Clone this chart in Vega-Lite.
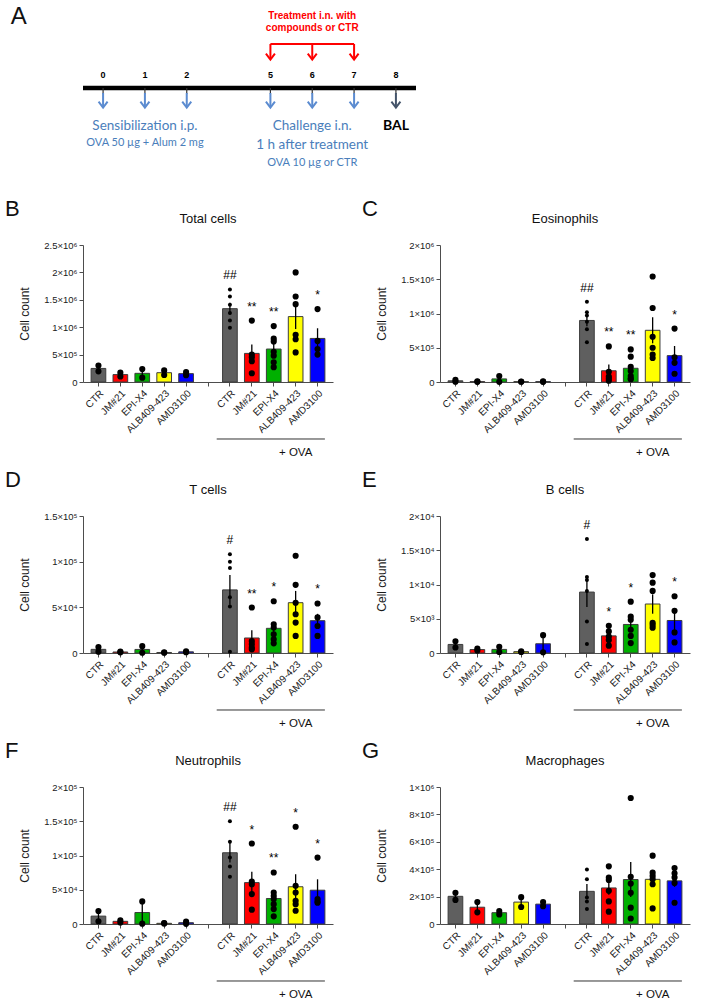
{
  "$schema": "https://vega.github.io/schema/vega-lite/v6.json",
  "padding": 5,
  "background": "white",
  "spacing": 10,
  "config": {
    "view": {"stroke": null},
    "font": "Liberation Sans",
    "title": {"font": "Liberation Sans", "fontWeight": "normal", "color": "#111111"},
    "axis": {"domainColor": "#4d4d4d", "tickColor": "#4d4d4d", "labelColor": "#1a1a1a", "titleColor": "#1a1a1a", "grid": false, "labelFont": "Liberation Sans", "titleFont": "Liberation Sans", "titleFontWeight": "normal", "domainWidth": 1, "tickWidth": 1},
    "axisY": {"labelFontSize": 9.5, "titleFontSize": 12, "tickSize": 4, "labelPadding": 2, "titlePadding": 10, "minExtent": 42, "labelOverlap": false},
    "axisX": {"labelFontSize": 10, "labelAngle": -45, "tickSize": 4, "labelPadding": 2}
  },
  "datasets": {
    "days": [
      {"day": "0", "kind": "sens"}, {"day": "1", "kind": "sens"}, {"day": "2", "kind": "sens"},
      {"day": "5", "kind": "chal"}, {"day": "6", "kind": "chal"}, {"day": "7", "kind": "chal"},
      {"day": "8", "kind": "bal"}
    ],
    "ova": [{"lo": "CTR|O", "hi": "AMD3100|O", "mid": "ALB409-423|O", "label": "+ OVA"}],
    "sigB": [{"g": "CTR|O", "s": "##"}, {"g": "JM#21|O", "s": "**"}, {"g": "EPI-X4|O", "s": "**"}, {"g": "AMD3100|O", "s": "*"}],
    "sigC": [{"g": "CTR|O", "s": "##"}, {"g": "JM#21|O", "s": "**"}, {"g": "EPI-X4|O", "s": "**"}, {"g": "AMD3100|O", "s": "*"}],
    "sigD": [{"g": "CTR|O", "s": "#"}, {"g": "JM#21|O", "s": "**"}, {"g": "EPI-X4|O", "s": "*"}, {"g": "AMD3100|O", "s": "*"}],
    "sigE": [{"g": "CTR|O", "s": "#"}, {"g": "JM#21|O", "s": "*"}, {"g": "EPI-X4|O", "s": "*"}, {"g": "AMD3100|O", "s": "*"}],
    "sigF": [{"g": "CTR|O", "s": "##"}, {"g": "JM#21|O", "s": "*"}, {"g": "EPI-X4|O", "s": "**"}, {"g": "ALB409-423|O", "s": "*"}, {"g": "AMD3100|O", "s": "*"}],
    "cells": [
      {"p": "B", "g": "CTR|S", "v": 300000}, {"p": "B", "g": "CTR|S", "v": 195000},
      {"p": "B", "g": "JM#21|S", "v": 170000}, {"p": "B", "g": "JM#21|S", "v": 100000},
      {"p": "B", "g": "EPI-X4|S", "v": 237000}, {"p": "B", "g": "EPI-X4|S", "v": 79000},
      {"p": "B", "g": "ALB409-423|S", "v": 212000}, {"p": "B", "g": "ALB409-423|S", "v": 127000},
      {"p": "B", "g": "AMD3100|S", "v": 180000}, {"p": "B", "g": "AMD3100|S", "v": 125000},
      {"p": "B", "g": "CTR|O", "v": 1690000}, {"p": "B", "g": "CTR|O", "v": 1560000}, {"p": "B", "g": "CTR|O", "v": 1410000}, {"p": "B", "g": "CTR|O", "v": 1260000}, {"p": "B", "g": "CTR|O", "v": 1120000}, {"p": "B", "g": "CTR|O", "v": 990000},
      {"p": "B", "g": "JM#21|O", "v": 1120000}, {"p": "B", "g": "JM#21|O", "v": 500000}, {"p": "B", "g": "JM#21|O", "v": 450000}, {"p": "B", "g": "JM#21|O", "v": 380000}, {"p": "B", "g": "JM#21|O", "v": 160000},
      {"p": "B", "g": "EPI-X4|O", "v": 1020000}, {"p": "B", "g": "EPI-X4|O", "v": 790000}, {"p": "B", "g": "EPI-X4|O", "v": 740000}, {"p": "B", "g": "EPI-X4|O", "v": 550000}, {"p": "B", "g": "EPI-X4|O", "v": 480000}, {"p": "B", "g": "EPI-X4|O", "v": 360000}, {"p": "B", "g": "EPI-X4|O", "v": 270000},
      {"p": "B", "g": "ALB409-423|O", "v": 2000000}, {"p": "B", "g": "ALB409-423|O", "v": 1560000}, {"p": "B", "g": "ALB409-423|O", "v": 1420000}, {"p": "B", "g": "ALB409-423|O", "v": 860000}, {"p": "B", "g": "ALB409-423|O", "v": 780000}, {"p": "B", "g": "ALB409-423|O", "v": 540000},
      {"p": "B", "g": "AMD3100|O", "v": 1330000}, {"p": "B", "g": "AMD3100|O", "v": 750000}, {"p": "B", "g": "AMD3100|O", "v": 600000}, {"p": "B", "g": "AMD3100|O", "v": 500000},

      {"p": "C", "g": "CTR|S", "v": 30000}, {"p": "C", "g": "CTR|S", "v": 5000},
      {"p": "C", "g": "JM#21|S", "v": 8000}, {"p": "C", "g": "JM#21|S", "v": 3000},
      {"p": "C", "g": "EPI-X4|S", "v": 88000}, {"p": "C", "g": "EPI-X4|S", "v": 2000},
      {"p": "C", "g": "ALB409-423|S", "v": 7000}, {"p": "C", "g": "ALB409-423|S", "v": 4000},
      {"p": "C", "g": "AMD3100|S", "v": 8000}, {"p": "C", "g": "AMD3100|S", "v": 3000},
      {"p": "C", "g": "CTR|O", "v": 1170000}, {"p": "C", "g": "CTR|O", "v": 1020000}, {"p": "C", "g": "CTR|O", "v": 970000}, {"p": "C", "g": "CTR|O", "v": 880000}, {"p": "C", "g": "CTR|O", "v": 770000}, {"p": "C", "g": "CTR|O", "v": 580000},
      {"p": "C", "g": "JM#21|O", "v": 520000}, {"p": "C", "g": "JM#21|O", "v": 150000}, {"p": "C", "g": "JM#21|O", "v": 80000}, {"p": "C", "g": "JM#21|O", "v": 50000}, {"p": "C", "g": "JM#21|O", "v": 20000},
      {"p": "C", "g": "EPI-X4|O", "v": 476000}, {"p": "C", "g": "EPI-X4|O", "v": 370000}, {"p": "C", "g": "EPI-X4|O", "v": 220000}, {"p": "C", "g": "EPI-X4|O", "v": 160000}, {"p": "C", "g": "EPI-X4|O", "v": 87000}, {"p": "C", "g": "EPI-X4|O", "v": 50000}, {"p": "C", "g": "EPI-X4|O", "v": 40000},
      {"p": "C", "g": "ALB409-423|O", "v": 1540000}, {"p": "C", "g": "ALB409-423|O", "v": 1080000}, {"p": "C", "g": "ALB409-423|O", "v": 660000}, {"p": "C", "g": "ALB409-423|O", "v": 500000}, {"p": "C", "g": "ALB409-423|O", "v": 400000}, {"p": "C", "g": "ALB409-423|O", "v": 350000},
      {"p": "C", "g": "AMD3100|O", "v": 780000}, {"p": "C", "g": "AMD3100|O", "v": 360000}, {"p": "C", "g": "AMD3100|O", "v": 280000}, {"p": "C", "g": "AMD3100|O", "v": 120000},

      {"p": "D", "g": "CTR|S", "v": 6500}, {"p": "D", "g": "CTR|S", "v": 1500},
      {"p": "D", "g": "JM#21|S", "v": 1500}, {"p": "D", "g": "JM#21|S", "v": 700},
      {"p": "D", "g": "EPI-X4|S", "v": 7500}, {"p": "D", "g": "EPI-X4|S", "v": 300},
      {"p": "D", "g": "ALB409-423|S", "v": 800}, {"p": "D", "g": "ALB409-423|S", "v": 300},
      {"p": "D", "g": "AMD3100|S", "v": 1800}, {"p": "D", "g": "AMD3100|S", "v": 800},
      {"p": "D", "g": "CTR|O", "v": 108000}, {"p": "D", "g": "CTR|O", "v": 100000}, {"p": "D", "g": "CTR|O", "v": 93000}, {"p": "D", "g": "CTR|O", "v": 61000}, {"p": "D", "g": "CTR|O", "v": 51000}, {"p": "D", "g": "CTR|O", "v": 1500},
      {"p": "D", "g": "JM#21|O", "v": 49800}, {"p": "D", "g": "JM#21|O", "v": 13000}, {"p": "D", "g": "JM#21|O", "v": 9500}, {"p": "D", "g": "JM#21|O", "v": 5900}, {"p": "D", "g": "JM#21|O", "v": 4000},
      {"p": "D", "g": "EPI-X4|O", "v": 56700}, {"p": "D", "g": "EPI-X4|O", "v": 31500}, {"p": "D", "g": "EPI-X4|O", "v": 27800}, {"p": "D", "g": "EPI-X4|O", "v": 20500}, {"p": "D", "g": "EPI-X4|O", "v": 15000}, {"p": "D", "g": "EPI-X4|O", "v": 10600},
      {"p": "D", "g": "ALB409-423|O", "v": 106500}, {"p": "D", "g": "ALB409-423|O", "v": 74600}, {"p": "D", "g": "ALB409-423|O", "v": 55000}, {"p": "D", "g": "ALB409-423|O", "v": 42400}, {"p": "D", "g": "ALB409-423|O", "v": 33300}, {"p": "D", "g": "ALB409-423|O", "v": 18700},
      {"p": "D", "g": "AMD3100|O", "v": 54200}, {"p": "D", "g": "AMD3100|O", "v": 39000}, {"p": "D", "g": "AMD3100|O", "v": 29600}, {"p": "D", "g": "AMD3100|O", "v": 18700},

      {"p": "E", "g": "CTR|S", "v": 1700}, {"p": "E", "g": "CTR|S", "v": 800},
      {"p": "E", "g": "JM#21|S", "v": 650}, {"p": "E", "g": "JM#21|S", "v": 350},
      {"p": "E", "g": "EPI-X4|S", "v": 900}, {"p": "E", "g": "EPI-X4|S", "v": 150},
      {"p": "E", "g": "ALB409-423|S", "v": 250}, {"p": "E", "g": "ALB409-423|S", "v": 150},
      {"p": "E", "g": "AMD3100|S", "v": 2600}, {"p": "E", "g": "AMD3100|S", "v": 100},
      {"p": "E", "g": "CTR|O", "v": 16660}, {"p": "E", "g": "CTR|O", "v": 11100}, {"p": "E", "g": "CTR|O", "v": 10650}, {"p": "E", "g": "CTR|O", "v": 9060}, {"p": "E", "g": "CTR|O", "v": 4600}, {"p": "E", "g": "CTR|O", "v": 1300},
      {"p": "E", "g": "JM#21|O", "v": 3970}, {"p": "E", "g": "JM#21|O", "v": 3150}, {"p": "E", "g": "JM#21|O", "v": 2400}, {"p": "E", "g": "JM#21|O", "v": 1900}, {"p": "E", "g": "JM#21|O", "v": 1070},
      {"p": "E", "g": "EPI-X4|O", "v": 7500}, {"p": "E", "g": "EPI-X4|O", "v": 5300}, {"p": "E", "g": "EPI-X4|O", "v": 4850}, {"p": "E", "g": "EPI-X4|O", "v": 3400}, {"p": "E", "g": "EPI-X4|O", "v": 2500}, {"p": "E", "g": "EPI-X4|O", "v": 1450},
      {"p": "E", "g": "ALB409-423|O", "v": 11380}, {"p": "E", "g": "ALB409-423|O", "v": 10270}, {"p": "E", "g": "ALB409-423|O", "v": 9060}, {"p": "E", "g": "ALB409-423|O", "v": 4400}, {"p": "E", "g": "ALB409-423|O", "v": 4100}, {"p": "E", "g": "ALB409-423|O", "v": 3700},
      {"p": "E", "g": "AMD3100|O", "v": 8280}, {"p": "E", "g": "AMD3100|O", "v": 6150}, {"p": "E", "g": "AMD3100|O", "v": 3000}, {"p": "E", "g": "AMD3100|O", "v": 1550},

      {"p": "F", "g": "CTR|S", "v": 19000}, {"p": "F", "g": "CTR|S", "v": 4000},
      {"p": "F", "g": "JM#21|S", "v": 5500}, {"p": "F", "g": "JM#21|S", "v": 2300},
      {"p": "F", "g": "EPI-X4|S", "v": 33000}, {"p": "F", "g": "EPI-X4|S", "v": 500},
      {"p": "F", "g": "ALB409-423|S", "v": 1200}, {"p": "F", "g": "ALB409-423|S", "v": 800},
      {"p": "F", "g": "AMD3100|S", "v": 3500}, {"p": "F", "g": "AMD3100|S", "v": 300},
      {"p": "F", "g": "CTR|O", "v": 150000}, {"p": "F", "g": "CTR|O", "v": 120000}, {"p": "F", "g": "CTR|O", "v": 97000}, {"p": "F", "g": "CTR|O", "v": 84000}, {"p": "F", "g": "CTR|O", "v": 69000},
      {"p": "F", "g": "JM#21|O", "v": 117500}, {"p": "F", "g": "JM#21|O", "v": 62000}, {"p": "F", "g": "JM#21|O", "v": 58000}, {"p": "F", "g": "JM#21|O", "v": 43700}, {"p": "F", "g": "JM#21|O", "v": 20900},
      {"p": "F", "g": "EPI-X4|O", "v": 75200}, {"p": "F", "g": "EPI-X4|O", "v": 46000}, {"p": "F", "g": "EPI-X4|O", "v": 41000}, {"p": "F", "g": "EPI-X4|O", "v": 36400}, {"p": "F", "g": "EPI-X4|O", "v": 29000}, {"p": "F", "g": "EPI-X4|O", "v": 21800}, {"p": "F", "g": "EPI-X4|O", "v": 11200},
      {"p": "F", "g": "ALB409-423|O", "v": 142000}, {"p": "F", "g": "ALB409-423|O", "v": 55800}, {"p": "F", "g": "ALB409-423|O", "v": 46000}, {"p": "F", "g": "ALB409-423|O", "v": 34000}, {"p": "F", "g": "ALB409-423|O", "v": 29000}, {"p": "F", "g": "ALB409-423|O", "v": 19400},
      {"p": "F", "g": "AMD3100|O", "v": 97000}, {"p": "F", "g": "AMD3100|O", "v": 36400}, {"p": "F", "g": "AMD3100|O", "v": 33000}, {"p": "F", "g": "AMD3100|O", "v": 31000},

      {"p": "G", "g": "CTR|S", "v": 228000}, {"p": "G", "g": "CTR|S", "v": 176000},
      {"p": "G", "g": "JM#21|S", "v": 160000}, {"p": "G", "g": "JM#21|S", "v": 85000},
      {"p": "G", "g": "EPI-X4|S", "v": 95000}, {"p": "G", "g": "EPI-X4|S", "v": 70000},
      {"p": "G", "g": "ALB409-423|S", "v": 196000}, {"p": "G", "g": "ALB409-423|S", "v": 124000},
      {"p": "G", "g": "AMD3100|S", "v": 160000}, {"p": "G", "g": "AMD3100|S", "v": 130000},
      {"p": "G", "g": "CTR|O", "v": 397000}, {"p": "G", "g": "CTR|O", "v": 327000}, {"p": "G", "g": "CTR|O", "v": 194000}, {"p": "G", "g": "CTR|O", "v": 165000}, {"p": "G", "g": "CTR|O", "v": 109000},
      {"p": "G", "g": "JM#21|O", "v": 421000}, {"p": "G", "g": "JM#21|O", "v": 339000}, {"p": "G", "g": "JM#21|O", "v": 322000}, {"p": "G", "g": "JM#21|O", "v": 242000}, {"p": "G", "g": "JM#21|O", "v": 165000}, {"p": "G", "g": "JM#21|O", "v": 90000},
      {"p": "G", "g": "EPI-X4|O", "v": 920000}, {"p": "G", "g": "EPI-X4|O", "v": 345000}, {"p": "G", "g": "EPI-X4|O", "v": 295000}, {"p": "G", "g": "EPI-X4|O", "v": 228000}, {"p": "G", "g": "EPI-X4|O", "v": 119000}, {"p": "G", "g": "EPI-X4|O", "v": 40000},
      {"p": "G", "g": "ALB409-423|O", "v": 499000}, {"p": "G", "g": "ALB409-423|O", "v": 375000}, {"p": "G", "g": "ALB409-423|O", "v": 351000}, {"p": "G", "g": "ALB409-423|O", "v": 327000}, {"p": "G", "g": "ALB409-423|O", "v": 290000}, {"p": "G", "g": "ALB409-423|O", "v": 114000},
      {"p": "G", "g": "AMD3100|O", "v": 409000}, {"p": "G", "g": "AMD3100|O", "v": 370000}, {"p": "G", "g": "AMD3100|O", "v": 340000}, {"p": "G", "g": "AMD3100|O", "v": 300000}, {"p": "G", "g": "AMD3100|O", "v": 155000}
    ]
  },
  "vconcat": [
    {
      "width": 333,
      "height": 183,
      "title": {"text": "A", "orient": "left", "anchor": "end", "angle": 0, "align": "right", "baseline": "top", "offset": 38, "fontSize": 24},
      "layer": [
        {
          "data": {"values": [{"line": "timeline"}]},
          "mark": {"type": "rule", "color": "black", "strokeWidth": 4.5},
          "encoding": {"y": {"datum": 0, "type": "quantitative", "scale": {"domain": [-10.0, 8.3], "nice": false, "zero": false}, "axis": null}}
        },
        {
          "data": {"name": "days"},
          "mark": {"type": "rule", "color": "#333333", "strokeWidth": 1.2},
          "encoding": {
            "x": {"field": "day", "type": "ordinal", "scale": {"type": "point", "domain": ["0", "1", "2", "gap", "5", "6", "7", "8"], "padding": 0.48}, "axis": null},
            "y": {"datum": 0, "type": "quantitative"},
            "y2": {"datum": -0.6}
          }
        },
        {
          "data": {"name": "days"},
          "mark": {"type": "text", "fontSize": 9, "fontWeight": "bold", "color": "black"},
          "encoding": {"x": {"field": "day", "type": "ordinal"}, "y": {"datum": 1.3, "type": "quantitative"}, "text": {"field": "day"}}
        },
        {
          "data": {"name": "days"},
          "mark": {"type": "rule", "strokeWidth": 2},
          "encoding": {
            "x": {"field": "day", "type": "ordinal"},
            "y": {"datum": -0.5, "type": "quantitative"},
            "y2": {"datum": -1.85},
            "color": {"condition": {"test": "datum.kind == 'bal'", "value": "#44546a"}, "value": "#5b8bd0"}
          }
        },
        {
          "data": {"name": "days"},
          "mark": {"type": "point", "shape": "M-1,-1.3L0,0L1,-1.3", "filled": false, "strokeWidth": 2, "size": 81, "opacity": 1},
          "encoding": {
            "x": {"field": "day", "type": "ordinal"},
            "y": {"datum": -1.95, "type": "quantitative"},
            "color": {"condition": {"test": "datum.kind == 'bal'", "value": "#44546a"}, "value": "#5b8bd0"}
          }
        },
        {
          "data": {"name": "days"},
          "transform": [{"filter": "datum.kind == 'chal'"}],
          "mark": {"type": "rule", "strokeWidth": 2, "color": "#ff0000"},
          "encoding": {"x": {"field": "day", "type": "ordinal"}, "y": {"datum": 4.4, "type": "quantitative"}, "y2": {"datum": 2.95}}
        },
        {
          "data": {"name": "days"},
          "transform": [{"filter": "datum.kind == 'chal'"}],
          "mark": {"type": "point", "shape": "M-1,-1.3L0,0L1,-1.3", "filled": false, "strokeWidth": 2, "size": 81, "opacity": 1, "color": "#ff0000"},
          "encoding": {"x": {"field": "day", "type": "ordinal"}, "y": {"datum": 2.85, "type": "quantitative"}}
        },
        {
          "data": {"values": [{"first": "5", "last": "7"}]},
          "mark": {"type": "rule", "strokeWidth": 2, "color": "#ff0000"},
          "encoding": {"x": {"field": "first", "type": "ordinal"}, "x2": {"field": "last"}, "y": {"datum": 4.4, "type": "quantitative"}}
        },
        {
          "data": {"values": [{"day": "6", "t": ["Treatment i.n. with", "compounds or CTR"]}]},
          "mark": {"type": "text", "fontSize": 10, "fontWeight": "bold", "color": "#ff0000", "lineHeight": 12, "baseline": "top"},
          "encoding": {"x": {"field": "day", "type": "ordinal"}, "y": {"datum": 7.7, "type": "quantitative"}, "text": {"field": "t"}}
        },
        {
          "data": {"values": [{"day": "1", "t": ["Sensibilization i.p."]}, {"day": "6", "t": ["Challenge i.n.", "1 h after treatment"]}]},
          "mark": {"type": "text", "font": "Lato", "fontSize": 13.5, "color": "#4a7ebb", "lineHeight": 19, "baseline": "top"},
          "encoding": {"x": {"field": "day", "type": "ordinal"}, "y": {"datum": -3.1, "type": "quantitative"}, "text": {"field": "t"}}
        },
        {
          "data": {"values": [{"day": "1", "t": "OVA 50 µg + Alum 2 mg"}]},
          "mark": {"type": "text", "font": "Lato", "fontSize": 11, "color": "#4a7ebb"},
          "encoding": {"x": {"field": "day", "type": "ordinal"}, "y": {"datum": -5.5, "type": "quantitative"}, "text": {"field": "t"}}
        },
        {
          "data": {"values": [{"day": "6", "t": "OVA 10 µg or CTR"}]},
          "mark": {"type": "text", "font": "Lato", "fontSize": 11, "color": "#4a7ebb"},
          "encoding": {"x": {"field": "day", "type": "ordinal"}, "y": {"datum": -7.5, "type": "quantitative"}, "text": {"field": "t"}}
        },
        {
          "data": {"values": [{"day": "8", "t": "BAL"}]},
          "mark": {"type": "text", "font": "Lato", "fontSize": 14, "fontWeight": "bold", "color": "black", "baseline": "top"},
          "encoding": {"x": {"field": "day", "type": "ordinal"}, "y": {"datum": -3.1, "type": "quantitative"}, "text": {"field": "t"}}
        }
      ]
    },
    {
      "hconcat": [
        {
          "title": {"text": "B", "anchor": "start", "dx": -13, "fontSize": 22, "offset": -8},
          "vconcat": [{
            "width": 250, "height": 137,
            "title": {"text": "Total cells", "fontSize": 13, "offset": 14},
            "data": {"name": "cells"},
            "layer": [
              {"transform": [{"filter": "datum.p == 'B'"}],
               "mark": {"type": "bar", "stroke": "#3c3c3c", "strokeWidth": 1},
               "encoding": {
                 "x": {"field": "g", "type": "nominal", "title": null, "scale": {"domain": ["CTR|S", "JM#21|S", "EPI-X4|S", "ALB409-423|S", "AMD3100|S", "gap", "CTR|O", "JM#21|O", "EPI-X4|O", "ALB409-423|O", "AMD3100|O"], "paddingInner": 0.33, "paddingOuter": 0.37}, "axis": {"labelExpr": "datum.value == 'gap' ? '' : replace(datum.value, /\\|.*$/, '')"}},
                 "y": {"aggregate": "mean", "field": "v", "type": "quantitative", "title": "Cell count", "scale": {"domain": [0, 2500000], "nice": false}, "axis": {"tickCount": 5, "labelExpr": "datum.value == 0 ? '0' : format(datum.value / pow(10, floor(log(datum.value) / LN10 + 1e-9)), '~g') + '×10' + ['⁰','¹','²','³','⁴','⁵','⁶','⁷','⁸','⁹'][floor(log(datum.value) / LN10 + 1e-9)]"}},
                 "color": {"field": "g", "type": "nominal", "legend": null, "scale": {"domain": ["CTR|S", "JM#21|S", "EPI-X4|S", "ALB409-423|S", "AMD3100|S", "CTR|O", "JM#21|O", "EPI-X4|O", "ALB409-423|O", "AMD3100|O"], "range": ["#5f5f5f", "#ff0000", "#00b000", "#ffff00", "#0000ff", "#5f5f5f", "#ff0000", "#00b000", "#ffff00", "#0000ff"]}}
               }},
              {"transform": [{"filter": "datum.p == 'B'"}],
               "mark": {"type": "errorbar", "extent": "stderr", "color": "black", "thickness": 1.3, "size": 8},
               "encoding": {"x": {"field": "g", "type": "nominal", "title": null}, "y": {"field": "v", "type": "quantitative", "title": "Cell count"}}},
              {"transform": [{"filter": "datum.p == 'B'"}],
               "mark": {"type": "point", "filled": true, "color": "black", "opacity": 1},
               "encoding": {"x": {"field": "g", "type": "nominal", "title": null}, "y": {"field": "v", "type": "quantitative", "title": "Cell count"}, "size": {"condition": {"test": "datum.g == 'CTR|O'", "value": 16}, "value": 38}}},
              {"transform": [{"filter": "datum.p == 'B'"}, {"aggregate": [{"op": "max", "field": "v", "as": "vmax"}], "groupby": ["g"]}, {"lookup": "g", "from": {"data": {"name": "sigB"}, "key": "g", "fields": ["s"]}}, {"filter": "isValid(datum.s)"}],
               "mark": {"type": "text", "dy": -14, "fontSize": 12, "color": "black"},
               "encoding": {"x": {"field": "g", "type": "nominal", "title": null}, "y": {"field": "vmax", "type": "quantitative", "title": "Cell count"}, "text": {"field": "s"}}},
              {"data": {"name": "ova"},
               "mark": {"type": "rule", "color": "#333333", "strokeWidth": 1},
               "encoding": {"x": {"field": "lo", "type": "nominal", "bandPosition": -0.4, "title": null}, "x2": {"field": "hi", "bandPosition": 1}, "y": {"datum": -1040000, "type": "quantitative", "title": "Cell count"}}},
              {"data": {"name": "ova"},
               "mark": {"type": "text", "fontSize": 11.5, "color": "#111111"},
               "encoding": {"x": {"field": "mid", "type": "nominal", "title": null}, "y": {"datum": -1295000, "type": "quantitative", "title": "Cell count"}, "text": {"field": "label"}}}
            ]
          }]
        },
        {
          "title": {"text": "C", "anchor": "start", "dx": -13, "fontSize": 22, "offset": -8},
          "vconcat": [{
            "width": 250, "height": 137,
            "title": {"text": "Eosinophils", "fontSize": 13, "offset": 14},
            "data": {"name": "cells"},
            "layer": [
              {"transform": [{"filter": "datum.p == 'C'"}],
               "mark": {"type": "bar", "stroke": "#3c3c3c", "strokeWidth": 1},
               "encoding": {
                 "x": {"field": "g", "type": "nominal", "title": null, "scale": {"domain": ["CTR|S", "JM#21|S", "EPI-X4|S", "ALB409-423|S", "AMD3100|S", "gap", "CTR|O", "JM#21|O", "EPI-X4|O", "ALB409-423|O", "AMD3100|O"], "paddingInner": 0.33, "paddingOuter": 0.37}, "axis": {"labelExpr": "datum.value == 'gap' ? '' : replace(datum.value, /\\|.*$/, '')"}},
                 "y": {"aggregate": "mean", "field": "v", "type": "quantitative", "title": "Cell count", "scale": {"domain": [0, 2000000], "nice": false}, "axis": {"tickCount": 4, "labelExpr": "datum.value == 0 ? '0' : format(datum.value / pow(10, floor(log(datum.value) / LN10 + 1e-9)), '~g') + '×10' + ['⁰','¹','²','³','⁴','⁵','⁶','⁷','⁸','⁹'][floor(log(datum.value) / LN10 + 1e-9)]"}},
                 "color": {"field": "g", "type": "nominal", "legend": null, "scale": {"domain": ["CTR|S", "JM#21|S", "EPI-X4|S", "ALB409-423|S", "AMD3100|S", "CTR|O", "JM#21|O", "EPI-X4|O", "ALB409-423|O", "AMD3100|O"], "range": ["#5f5f5f", "#ff0000", "#00b000", "#ffff00", "#0000ff", "#5f5f5f", "#ff0000", "#00b000", "#ffff00", "#0000ff"]}}
               }},
              {"transform": [{"filter": "datum.p == 'C'"}],
               "mark": {"type": "errorbar", "extent": "stderr", "color": "black", "thickness": 1.3, "size": 8},
               "encoding": {"x": {"field": "g", "type": "nominal", "title": null}, "y": {"field": "v", "type": "quantitative", "title": "Cell count"}}},
              {"transform": [{"filter": "datum.p == 'C'"}],
               "mark": {"type": "point", "filled": true, "color": "black", "opacity": 1},
               "encoding": {"x": {"field": "g", "type": "nominal", "title": null}, "y": {"field": "v", "type": "quantitative", "title": "Cell count"}, "size": {"condition": {"test": "datum.g == 'CTR|O'", "value": 16}, "value": 38}}},
              {"transform": [{"filter": "datum.p == 'C'"}, {"aggregate": [{"op": "max", "field": "v", "as": "vmax"}], "groupby": ["g"]}, {"lookup": "g", "from": {"data": {"name": "sigC"}, "key": "g", "fields": ["s"]}}, {"filter": "isValid(datum.s)"}],
               "mark": {"type": "text", "dy": -14, "fontSize": 12, "color": "black"},
               "encoding": {"x": {"field": "g", "type": "nominal", "title": null}, "y": {"field": "vmax", "type": "quantitative", "title": "Cell count"}, "text": {"field": "s"}}},
              {"data": {"name": "ova"},
               "mark": {"type": "rule", "color": "#333333", "strokeWidth": 1},
               "encoding": {"x": {"field": "lo", "type": "nominal", "bandPosition": -0.4, "title": null}, "x2": {"field": "hi", "bandPosition": 1}, "y": {"datum": -832000, "type": "quantitative", "title": "Cell count"}}},
              {"data": {"name": "ova"},
               "mark": {"type": "text", "fontSize": 11.5, "color": "#111111"},
               "encoding": {"x": {"field": "mid", "type": "nominal", "title": null}, "y": {"datum": -1036000, "type": "quantitative", "title": "Cell count"}, "text": {"field": "label"}}}
            ]
          }]
        }
      ],
      "spacing": 29
    },
    {
      "hconcat": [
        {
          "title": {"text": "D", "anchor": "start", "dx": -13, "fontSize": 22, "offset": -8},
          "vconcat": [{
            "width": 250, "height": 137,
            "title": {"text": "T cells", "fontSize": 13, "offset": 14},
            "data": {"name": "cells"},
            "layer": [
              {"transform": [{"filter": "datum.p == 'D'"}],
               "mark": {"type": "bar", "stroke": "#3c3c3c", "strokeWidth": 1},
               "encoding": {
                 "x": {"field": "g", "type": "nominal", "title": null, "scale": {"domain": ["CTR|S", "JM#21|S", "EPI-X4|S", "ALB409-423|S", "AMD3100|S", "gap", "CTR|O", "JM#21|O", "EPI-X4|O", "ALB409-423|O", "AMD3100|O"], "paddingInner": 0.33, "paddingOuter": 0.37}, "axis": {"labelExpr": "datum.value == 'gap' ? '' : replace(datum.value, /\\|.*$/, '')"}},
                 "y": {"aggregate": "mean", "field": "v", "type": "quantitative", "title": "Cell count", "scale": {"domain": [0, 150000], "nice": false}, "axis": {"tickCount": 3, "labelExpr": "datum.value == 0 ? '0' : format(datum.value / pow(10, floor(log(datum.value) / LN10 + 1e-9)), '~g') + '×10' + ['⁰','¹','²','³','⁴','⁵','⁶','⁷','⁸','⁹'][floor(log(datum.value) / LN10 + 1e-9)]"}},
                 "color": {"field": "g", "type": "nominal", "legend": null, "scale": {"domain": ["CTR|S", "JM#21|S", "EPI-X4|S", "ALB409-423|S", "AMD3100|S", "CTR|O", "JM#21|O", "EPI-X4|O", "ALB409-423|O", "AMD3100|O"], "range": ["#5f5f5f", "#ff0000", "#00b000", "#ffff00", "#0000ff", "#5f5f5f", "#ff0000", "#00b000", "#ffff00", "#0000ff"]}}
               }},
              {"transform": [{"filter": "datum.p == 'D'"}],
               "mark": {"type": "errorbar", "extent": "stderr", "color": "black", "thickness": 1.3, "size": 8},
               "encoding": {"x": {"field": "g", "type": "nominal", "title": null}, "y": {"field": "v", "type": "quantitative", "title": "Cell count"}}},
              {"transform": [{"filter": "datum.p == 'D'"}],
               "mark": {"type": "point", "filled": true, "color": "black", "opacity": 1},
               "encoding": {"x": {"field": "g", "type": "nominal", "title": null}, "y": {"field": "v", "type": "quantitative", "title": "Cell count"}, "size": {"condition": {"test": "datum.g == 'CTR|O'", "value": 16}, "value": 38}}},
              {"transform": [{"filter": "datum.p == 'D'"}, {"aggregate": [{"op": "max", "field": "v", "as": "vmax"}], "groupby": ["g"]}, {"lookup": "g", "from": {"data": {"name": "sigD"}, "key": "g", "fields": ["s"]}}, {"filter": "isValid(datum.s)"}],
               "mark": {"type": "text", "dy": -14, "fontSize": 12, "color": "black"},
               "encoding": {"x": {"field": "g", "type": "nominal", "title": null}, "y": {"field": "vmax", "type": "quantitative", "title": "Cell count"}, "text": {"field": "s"}}},
              {"data": {"name": "ova"},
               "mark": {"type": "rule", "color": "#333333", "strokeWidth": 1},
               "encoding": {"x": {"field": "lo", "type": "nominal", "bandPosition": -0.4, "title": null}, "x2": {"field": "hi", "bandPosition": 1}, "y": {"datum": -62400, "type": "quantitative", "title": "Cell count"}}},
              {"data": {"name": "ova"},
               "mark": {"type": "text", "fontSize": 11.5, "color": "#111111"},
               "encoding": {"x": {"field": "mid", "type": "nominal", "title": null}, "y": {"datum": -77700, "type": "quantitative", "title": "Cell count"}, "text": {"field": "label"}}}
            ]
          }]
        },
        {
          "title": {"text": "E", "anchor": "start", "dx": -13, "fontSize": 22, "offset": -8},
          "vconcat": [{
            "width": 250, "height": 137,
            "title": {"text": "B cells", "fontSize": 13, "offset": 14},
            "data": {"name": "cells"},
            "layer": [
              {"transform": [{"filter": "datum.p == 'E'"}],
               "mark": {"type": "bar", "stroke": "#3c3c3c", "strokeWidth": 1},
               "encoding": {
                 "x": {"field": "g", "type": "nominal", "title": null, "scale": {"domain": ["CTR|S", "JM#21|S", "EPI-X4|S", "ALB409-423|S", "AMD3100|S", "gap", "CTR|O", "JM#21|O", "EPI-X4|O", "ALB409-423|O", "AMD3100|O"], "paddingInner": 0.33, "paddingOuter": 0.37}, "axis": {"labelExpr": "datum.value == 'gap' ? '' : replace(datum.value, /\\|.*$/, '')"}},
                 "y": {"aggregate": "mean", "field": "v", "type": "quantitative", "title": "Cell count", "scale": {"domain": [0, 20000], "nice": false}, "axis": {"tickCount": 4, "labelExpr": "datum.value == 0 ? '0' : format(datum.value / pow(10, floor(log(datum.value) / LN10 + 1e-9)), '~g') + '×10' + ['⁰','¹','²','³','⁴','⁵','⁶','⁷','⁸','⁹'][floor(log(datum.value) / LN10 + 1e-9)]"}},
                 "color": {"field": "g", "type": "nominal", "legend": null, "scale": {"domain": ["CTR|S", "JM#21|S", "EPI-X4|S", "ALB409-423|S", "AMD3100|S", "CTR|O", "JM#21|O", "EPI-X4|O", "ALB409-423|O", "AMD3100|O"], "range": ["#5f5f5f", "#ff0000", "#00b000", "#ffff00", "#0000ff", "#5f5f5f", "#ff0000", "#00b000", "#ffff00", "#0000ff"]}}
               }},
              {"transform": [{"filter": "datum.p == 'E'"}],
               "mark": {"type": "errorbar", "extent": "stderr", "color": "black", "thickness": 1.3, "size": 8},
               "encoding": {"x": {"field": "g", "type": "nominal", "title": null}, "y": {"field": "v", "type": "quantitative", "title": "Cell count"}}},
              {"transform": [{"filter": "datum.p == 'E'"}],
               "mark": {"type": "point", "filled": true, "color": "black", "opacity": 1},
               "encoding": {"x": {"field": "g", "type": "nominal", "title": null}, "y": {"field": "v", "type": "quantitative", "title": "Cell count"}, "size": {"condition": {"test": "datum.g == 'CTR|O'", "value": 16}, "value": 38}}},
              {"transform": [{"filter": "datum.p == 'E'"}, {"aggregate": [{"op": "max", "field": "v", "as": "vmax"}], "groupby": ["g"]}, {"lookup": "g", "from": {"data": {"name": "sigE"}, "key": "g", "fields": ["s"]}}, {"filter": "isValid(datum.s)"}],
               "mark": {"type": "text", "dy": -14, "fontSize": 12, "color": "black"},
               "encoding": {"x": {"field": "g", "type": "nominal", "title": null}, "y": {"field": "vmax", "type": "quantitative", "title": "Cell count"}, "text": {"field": "s"}}},
              {"data": {"name": "ova"},
               "mark": {"type": "rule", "color": "#333333", "strokeWidth": 1},
               "encoding": {"x": {"field": "lo", "type": "nominal", "bandPosition": -0.4, "title": null}, "x2": {"field": "hi", "bandPosition": 1}, "y": {"datum": -8320, "type": "quantitative", "title": "Cell count"}}},
              {"data": {"name": "ova"},
               "mark": {"type": "text", "fontSize": 11.5, "color": "#111111"},
               "encoding": {"x": {"field": "mid", "type": "nominal", "title": null}, "y": {"datum": -10360, "type": "quantitative", "title": "Cell count"}, "text": {"field": "label"}}}
            ]
          }]
        }
      ],
      "spacing": 29
    },
    {
      "hconcat": [
        {
          "title": {"text": "F", "anchor": "start", "dx": -13, "fontSize": 22, "offset": -8},
          "vconcat": [{
            "width": 250, "height": 137,
            "title": {"text": "Neutrophils", "fontSize": 13, "offset": 14},
            "data": {"name": "cells"},
            "layer": [
              {"transform": [{"filter": "datum.p == 'F'"}],
               "mark": {"type": "bar", "stroke": "#3c3c3c", "strokeWidth": 1},
               "encoding": {
                 "x": {"field": "g", "type": "nominal", "title": null, "scale": {"domain": ["CTR|S", "JM#21|S", "EPI-X4|S", "ALB409-423|S", "AMD3100|S", "gap", "CTR|O", "JM#21|O", "EPI-X4|O", "ALB409-423|O", "AMD3100|O"], "paddingInner": 0.33, "paddingOuter": 0.37}, "axis": {"labelExpr": "datum.value == 'gap' ? '' : replace(datum.value, /\\|.*$/, '')"}},
                 "y": {"aggregate": "mean", "field": "v", "type": "quantitative", "title": "Cell count", "scale": {"domain": [0, 200000], "nice": false}, "axis": {"tickCount": 4, "labelExpr": "datum.value == 0 ? '0' : format(datum.value / pow(10, floor(log(datum.value) / LN10 + 1e-9)), '~g') + '×10' + ['⁰','¹','²','³','⁴','⁵','⁶','⁷','⁸','⁹'][floor(log(datum.value) / LN10 + 1e-9)]"}},
                 "color": {"field": "g", "type": "nominal", "legend": null, "scale": {"domain": ["CTR|S", "JM#21|S", "EPI-X4|S", "ALB409-423|S", "AMD3100|S", "CTR|O", "JM#21|O", "EPI-X4|O", "ALB409-423|O", "AMD3100|O"], "range": ["#5f5f5f", "#ff0000", "#00b000", "#ffff00", "#0000ff", "#5f5f5f", "#ff0000", "#00b000", "#ffff00", "#0000ff"]}}
               }},
              {"transform": [{"filter": "datum.p == 'F'"}],
               "mark": {"type": "errorbar", "extent": "stderr", "color": "black", "thickness": 1.3, "size": 8},
               "encoding": {"x": {"field": "g", "type": "nominal", "title": null}, "y": {"field": "v", "type": "quantitative", "title": "Cell count"}}},
              {"transform": [{"filter": "datum.p == 'F'"}],
               "mark": {"type": "point", "filled": true, "color": "black", "opacity": 1},
               "encoding": {"x": {"field": "g", "type": "nominal", "title": null}, "y": {"field": "v", "type": "quantitative", "title": "Cell count"}, "size": {"condition": {"test": "datum.g == 'CTR|O'", "value": 16}, "value": 38}}},
              {"transform": [{"filter": "datum.p == 'F'"}, {"aggregate": [{"op": "max", "field": "v", "as": "vmax"}], "groupby": ["g"]}, {"lookup": "g", "from": {"data": {"name": "sigF"}, "key": "g", "fields": ["s"]}}, {"filter": "isValid(datum.s)"}],
               "mark": {"type": "text", "dy": -14, "fontSize": 12, "color": "black"},
               "encoding": {"x": {"field": "g", "type": "nominal", "title": null}, "y": {"field": "vmax", "type": "quantitative", "title": "Cell count"}, "text": {"field": "s"}}},
              {"data": {"name": "ova"},
               "mark": {"type": "rule", "color": "#333333", "strokeWidth": 1},
               "encoding": {"x": {"field": "lo", "type": "nominal", "bandPosition": -0.4, "title": null}, "x2": {"field": "hi", "bandPosition": 1}, "y": {"datum": -83200, "type": "quantitative", "title": "Cell count"}}},
              {"data": {"name": "ova"},
               "mark": {"type": "text", "fontSize": 11.5, "color": "#111111"},
               "encoding": {"x": {"field": "mid", "type": "nominal", "title": null}, "y": {"datum": -103600, "type": "quantitative", "title": "Cell count"}, "text": {"field": "label"}}}
            ]
          }]
        },
        {
          "title": {"text": "G", "anchor": "start", "dx": -13, "fontSize": 22, "offset": -8},
          "vconcat": [{
            "width": 250, "height": 137,
            "title": {"text": "Macrophages", "fontSize": 13, "offset": 14},
            "data": {"name": "cells"},
            "layer": [
              {"transform": [{"filter": "datum.p == 'G'"}],
               "mark": {"type": "bar", "stroke": "#3c3c3c", "strokeWidth": 1},
               "encoding": {
                 "x": {"field": "g", "type": "nominal", "title": null, "scale": {"domain": ["CTR|S", "JM#21|S", "EPI-X4|S", "ALB409-423|S", "AMD3100|S", "gap", "CTR|O", "JM#21|O", "EPI-X4|O", "ALB409-423|O", "AMD3100|O"], "paddingInner": 0.33, "paddingOuter": 0.37}, "axis": {"labelExpr": "datum.value == 'gap' ? '' : replace(datum.value, /\\|.*$/, '')"}},
                 "y": {"aggregate": "mean", "field": "v", "type": "quantitative", "title": "Cell count", "scale": {"domain": [0, 1000000], "nice": false}, "axis": {"tickCount": 5, "labelExpr": "datum.value == 0 ? '0' : format(datum.value / pow(10, floor(log(datum.value) / LN10 + 1e-9)), '~g') + '×10' + ['⁰','¹','²','³','⁴','⁵','⁶','⁷','⁸','⁹'][floor(log(datum.value) / LN10 + 1e-9)]"}},
                 "color": {"field": "g", "type": "nominal", "legend": null, "scale": {"domain": ["CTR|S", "JM#21|S", "EPI-X4|S", "ALB409-423|S", "AMD3100|S", "CTR|O", "JM#21|O", "EPI-X4|O", "ALB409-423|O", "AMD3100|O"], "range": ["#5f5f5f", "#ff0000", "#00b000", "#ffff00", "#0000ff", "#5f5f5f", "#ff0000", "#00b000", "#ffff00", "#0000ff"]}}
               }},
              {"transform": [{"filter": "datum.p == 'G'"}],
               "mark": {"type": "errorbar", "extent": "stderr", "color": "black", "thickness": 1.3, "size": 8},
               "encoding": {"x": {"field": "g", "type": "nominal", "title": null}, "y": {"field": "v", "type": "quantitative", "title": "Cell count"}}},
              {"transform": [{"filter": "datum.p == 'G'"}],
               "mark": {"type": "point", "filled": true, "color": "black", "opacity": 1},
               "encoding": {"x": {"field": "g", "type": "nominal", "title": null}, "y": {"field": "v", "type": "quantitative", "title": "Cell count"}, "size": {"condition": {"test": "datum.g == 'CTR|O'", "value": 16}, "value": 38}}},
              {"data": {"name": "ova"},
               "mark": {"type": "rule", "color": "#333333", "strokeWidth": 1},
               "encoding": {"x": {"field": "lo", "type": "nominal", "bandPosition": -0.4, "title": null}, "x2": {"field": "hi", "bandPosition": 1}, "y": {"datum": -416000, "type": "quantitative", "title": "Cell count"}}},
              {"data": {"name": "ova"},
               "mark": {"type": "text", "fontSize": 11.5, "color": "#111111"},
               "encoding": {"x": {"field": "mid", "type": "nominal", "title": null}, "y": {"datum": -518000, "type": "quantitative", "title": "Cell count"}, "text": {"field": "label"}}}
            ]
          }]
        }
      ],
      "spacing": 29
    }
  ]
}
